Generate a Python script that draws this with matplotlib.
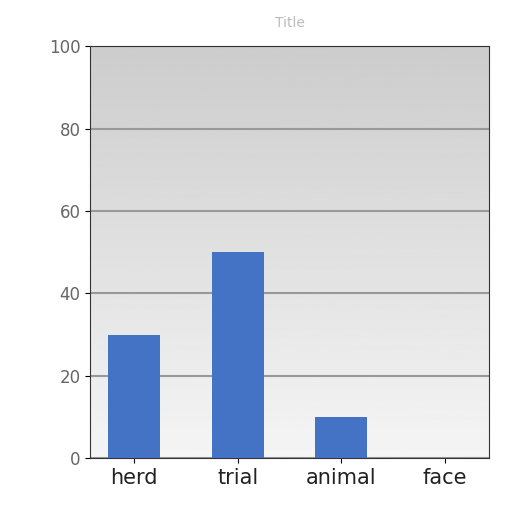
import numpy as np
import matplotlib.pyplot as plt

# --- dados ---
categories = ['herd', 'trial', 'animal', 'face']
values = [30, 50, 10, 0]
y_ticks = [0, 20, 40, 60, 80, 100]

fig = plt.figure(figsize=(5.12, 5.12), dpi=100, facecolor='white')
ax = fig.add_axes([0.176, 0.105, 0.779, 0.805])

# fundo em degradê (cinza em cima, claro embaixo)
grad = np.linspace(0.80, 0.96, 256).reshape(-1, 1)
ax.imshow(grad, cmap='gray', vmin=0, vmax=1, aspect='auto',
          extent=[0, 1, 0, 1], transform=ax.transAxes, zorder=0)

x = np.arange(len(categories))
ax.bar(x, values, width=0.5, color='#4472C4', zorder=3)

ax.set_xlim(-0.425, 3.425)
ax.set_ylim(0, 100)
ax.set_yticks(y_ticks)
ax.set_xticks(x)
ax.set_xticklabels(categories, fontsize=15, color='#222222')
ax.tick_params(axis='y', labelsize=12, labelcolor='#666666')
ax.yaxis.grid(True, color='#999999', linewidth=1.5, zorder=1)
ax.set_axisbelow(True)
for s in ax.spines.values():
    s.set_color('#333333')

ax.set_title('Title', fontsize=10, color='#bbbbbb', pad=14)

fig.savefig('out.png', dpi=100)
